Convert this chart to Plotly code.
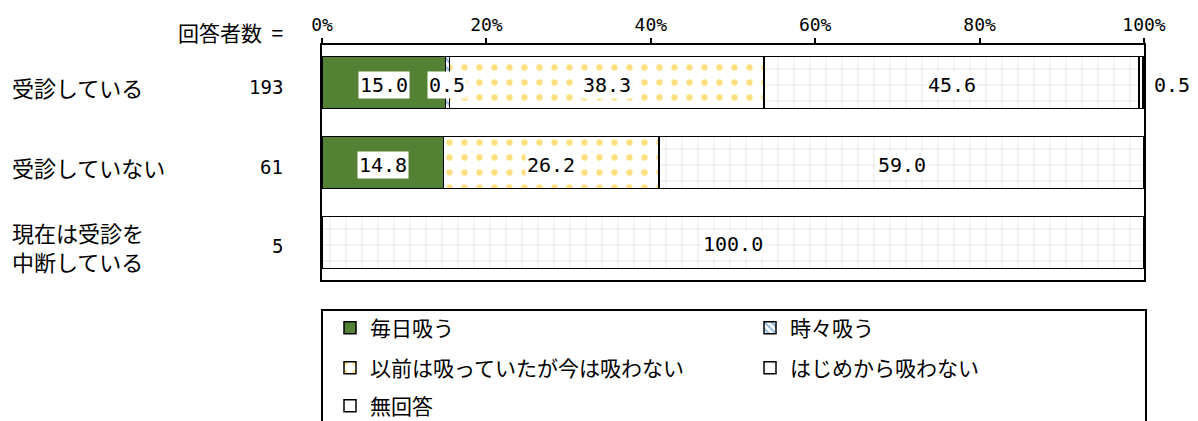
import plotly.graph_objects as go

# data (percent)
categories = ["受診している", "受診していない", "現在は受診を<br>中断している"]
respondents = [193, 61, 5]
series_names = ["毎日吸う", "時々吸う", "以前は吸っていたが今は吸わない", "はじめから吸わない", "無回答"]
daily = [15.0, 14.8, 0.0]
sometimes = [0.5, 0.0, 0.0]
quit_smoking = [38.3, 26.2, 0.0]
never = [45.6, 59.0, 100.0]
no_answer = [0.5, 0.0, 0.0]
x_ticks = [0, 20, 40, 60, 80, 100]

series_values = [daily, sometimes, quit_smoking, never, no_answer]

FONT = "Noto Sans CJK JP"
NUM_FONT = "DejaVu Sans Mono"
W, H = 1198, 421
OFF = 8  # page body margin shifts the figure by 8px
# plot box on screen: x 322..1144, y 45..280
L, T = 322 - OFF, 45 - OFF
R, B = W - (1144 - OFF), H - (280 - OFF)
PW, PH = W - L - R, H - T - B

def px_x(sx):
    return (sx - OFF - L) / PW

def px_y(sy):
    return (H - B - (sy - OFF)) / PH

styles = [
    dict(color="#548235"),
    dict(color="white", pattern=dict(shape="\\", fgcolor="#2E75B6", bgcolor="white", size=6, solidity=0.45)),
    dict(color="white", pattern=dict(shape=".", fgcolor="#FFC000", bgcolor="white", size=15, solidity=0.14)),
    dict(color="white", pattern=dict(shape="+", fgcolor="#9A9A9A", bgcolor="white", size=16, solidity=0.06)),
    dict(color="white"),
]

# legend slots (screen positions of each entry)
legend_pos = [(330, 328), (750, 328), (330, 368), (750, 368), (330, 406)]

fig = go.Figure()
rows = list(range(len(categories)))
for i, (name, vals) in enumerate(zip(series_names, series_values)):
    marker = dict(styles[i])
    marker["line"] = dict(color="black", width=1.5)
    fig.add_trace(go.Bar(
        name=name, y=rows, x=vals, orientation="h", width=0.65,
        marker=marker, hoverinfo="skip",
        legend="legend" if i == 0 else "legend%d" % (i + 1),
    ))

annotations = []
# value labels
for r in rows:
    base = 0
    for i, vals in enumerate(series_values):
        v = vals[r]
        if v > 0:
            if i == len(series_values) - 1 and v < 2:
                annotations.append(dict(x=100, y=r, xref="x", yref="y", text="%.1f" % v,
                                        xanchor="left", xshift=8, yshift=-2, showarrow=False,
                                        font=dict(size=20, family=NUM_FONT)))
            else:
                annotations.append(dict(x=base + v / 2, y=r, xref="x", yref="y", text="%.1f" % v,
                                        showarrow=False, bgcolor="white", borderpad=1, yshift=-2,
                                        font=dict(size=20, family=NUM_FONT)))
        base += v

# row labels and counts
for r, (cat, n) in enumerate(zip(categories, respondents)):
    annotations.append(dict(x=px_x(10), y=r, xref="paper", yref="y", text=cat,
                            xanchor="left", align="left", showarrow=False, yshift=-4,
                            font=dict(size=22)))
    annotations.append(dict(x=px_x(285), y=r, xref="paper", yref="y", text=str(n),
                            xanchor="right", showarrow=False, yshift=-4,
                            font=dict(size=19, family=NUM_FONT)))
annotations.append(dict(x=px_x(285), y=px_y(32), xref="paper", yref="paper",
                        text="回答者数 \u00a0=",
                        xanchor="right", yanchor="middle", showarrow=False, font=dict(size=21)))

layout_legends = {}
for i, (sx, sy) in enumerate(legend_pos):
    key = "legend" if i == 0 else "legend%d" % (i + 1)
    layout_legends[key] = dict(
        x=(sx - OFF) / W, y=1 - (sy - OFF) / H, xref="container", yref="container",
        xanchor="left", yanchor="middle", font=dict(size=21, family=FONT, color="black"),
        bgcolor="rgba(0,0,0,0)", borderwidth=0,
    )

fig.update_layout(
    width=W, height=H,
    margin=dict(l=L, r=R, t=T, b=B, autoexpand=False),
    paper_bgcolor="white", plot_bgcolor="white",
    font=dict(family=FONT, color="black", size=19),
    barmode="stack",
    showlegend=True,
    annotations=annotations,
    shapes=[dict(type="rect", xref="paper", yref="paper",
                 x0=0, x1=px_x(1146), y0=px_y(310), y1=px_y(450),
                 line=dict(color="black", width=2))],
    **layout_legends,
)
fig.update_xaxes(
    range=[0, 100], side="top", tickvals=x_ticks, ticktext=["%d%%" % t for t in x_ticks],
    ticks="outside", ticklen=5, tickcolor="black", tickwidth=1.5,
    showline=True, linecolor="black", linewidth=2, mirror=True,
    showgrid=False, zeroline=False, tickfont=dict(size=18, family=NUM_FONT),
)
fig.update_yaxes(
    range=[2.47, -0.47], showticklabels=False, ticks="",
    showline=True, linecolor="black", linewidth=2, mirror=True,
    showgrid=False, zeroline=False,
)

fig.write_html("out.html")
